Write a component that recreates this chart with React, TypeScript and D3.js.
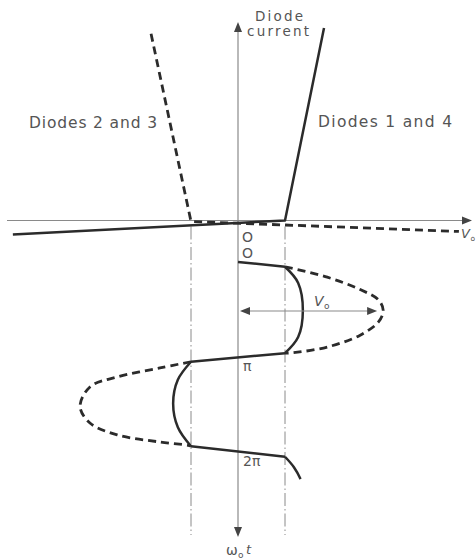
import React from "react";
import * as d3 from "d3";

// Diode characteristics: [voltage (knee units), current (arb. units)]
const diodes14: [number, number][] = [[-4.79, -0.73], [1, 0], [1.83, 10]];
const diodes23: [number, number][] = [[-1.85, 9.7], [-1, -0.05], [4.7, -0.57]];

// Waveforms below the axis: [voltage (knee units), phase (units of pi)]
const rampA: [number, number][] = [[0, 0], [1, 0.05]];
const clipPos: [number, number][] = [[1, 0.05], [1.28, 0.22], [1.38, 0.51], [1.28, 0.79], [1, 0.96]];
const drivePos: [number, number][] = [
  [1, 0.05], [1.9, 0.16], [2.6, 0.29], [2.99, 0.4], [3.09, 0.51],
  [2.99, 0.63], [2.6, 0.77], [1.9, 0.895], [1.17, 0.955], [1, 0.96],
];
const rampB: [number, number][] = [[1, 0.96], [-1, 1.05]];
const clipNeg: [number, number][] = [[-1, 1.05], [-1.28, 1.24], [-1.38, 1.49], [-1.28, 1.74], [-1, 1.94]];
const driveNeg: [number, number][] = [
  [-1, 1.05], [-1.66, 1.115], [-2.57, 1.21], [-3.15, 1.315], [-3.36, 1.52],
  [-3.15, 1.695], [-2.57, 1.82], [-1.66, 1.895], [-1.06, 1.93], [-1, 1.94],
];
const rampC: [number, number][] = [[-1, 1.94], [1, 2.05]];
const clipTail: [number, number][] = [[1, 2.05], [1.19, 2.16], [1.33, 2.285]];

const kneeVolts = [-1, 1];
const peakVolts = 2.96;
const peakPhase = 0.515;
const phaseLabels = [
  { p: 1, text: "\u03c0" },
  { p: 2, text: "2\u03c0" },
];

const W = 476;
const H = 560;

export default function App() {
  const x = d3.scaleLinear().domain([0, 1]).range([238, 285]);
  const yI = d3.scaleLinear().domain([0, 10]).range([220.5, 28]);
  const yT = d3.scaleLinear().domain([0, 2]).range([262, 452]);

  const ivLine = d3.line<[number, number]>().x((d) => x(d[0])).y((d) => yI(d[1]));
  const straight = d3.line<[number, number]>().x((d) => x(d[0])).y((d) => yT(d[1]));
  const smooth = d3
    .line<[number, number]>()
    .x((d) => x(d[0]))
    .y((d) => yT(d[1]))
    .curve(d3.curveCatmullRom.alpha(0.5));

  const axisColor = "#8a8a8a";
  const ink = "#2b2b2b";
  const textColor = "#555";
  const font = "'DejaVu Sans', sans-serif";

  const x0 = x(0);
  const yAxis = yI(0);
  const topTip = 22;
  const bottomTip = 537;
  const leftEnd = 7;
  const rightTip = 472;

  const arrow = (tx: number, ty: number, dir: "up" | "down" | "left" | "right", len = 10, hw = 4) => {
    let pts: [number, number][] = [];
    if (dir === "up") pts = [[tx, ty], [tx - hw, ty + len], [tx + hw, ty + len]];
    if (dir === "down") pts = [[tx, ty], [tx - hw, ty - len], [tx + hw, ty - len]];
    if (dir === "left") pts = [[tx, ty], [tx + len, ty - hw], [tx + len, ty + hw]];
    if (dir === "right") pts = [[tx, ty], [tx - len, ty - hw], [tx - len, ty + hw]];
    return "M" + pts.map((p) => p.join(",")).join("L") + "Z";
  };

  const vY = yT(peakPhase);
  const vLeft = x(0) + 2;
  const vRight = x(peakVolts);

  const solidW = 2.5;
  const dashW = 2.8;

  return (
    <svg
      width={W}
      height={H}
      viewBox={`0 0 ${W} ${H}`}
      style={{ position: "absolute", left: 0, top: 0, background: "#fff" }}
    >
      <rect width={W} height={H} fill="#fff" />

      {/* axes */}
      <line x1={x0} y1={topTip + 6} x2={x0} y2={bottomTip - 6} stroke={axisColor} strokeWidth={1.2} />
      <line x1={leftEnd} y1={yAxis} x2={rightTip - 6} y2={yAxis} stroke={axisColor} strokeWidth={1.2} />
      <path d={arrow(x0, topTip, "up")} fill="#444" />
      <path d={arrow(x0, bottomTip, "down")} fill="#444" />
      <path d={arrow(rightTip, yAxis, "right")} fill="#444" />

      {/* knee projections */}
      {kneeVolts.map((v) => (
        <line
          key={v}
          x1={x(v)}
          y1={yAxis + 6}
          x2={x(v)}
          y2={bottomTip - 2}
          stroke={axisColor}
          strokeWidth={1}
          strokeDasharray="13 3 1.5 3"
        />
      ))}

      {/* diode characteristics */}
      <path d={ivLine(diodes14) ?? ""} fill="none" stroke={ink} strokeWidth={solidW} strokeLinejoin="round" />
      <path d={ivLine(diodes23) ?? ""} fill="none" stroke={ink} strokeWidth={dashW} strokeDasharray="8 5" />

      {/* drive voltage (dashed) */}
      <path d={smooth(drivePos) ?? ""} fill="none" stroke={ink} strokeWidth={dashW} strokeDasharray="8 5" />
      <path d={smooth(driveNeg) ?? ""} fill="none" stroke={ink} strokeWidth={dashW} strokeDasharray="8 5" />

      {/* clipped diode voltage (solid) */}
      <path d={straight(rampA) ?? ""} fill="none" stroke={ink} strokeWidth={solidW} />
      <path d={smooth(clipPos) ?? ""} fill="none" stroke={ink} strokeWidth={solidW} />
      <path d={straight(rampB) ?? ""} fill="none" stroke={ink} strokeWidth={solidW} />
      <path d={smooth(clipNeg) ?? ""} fill="none" stroke={ink} strokeWidth={solidW} />
      <path d={straight(rampC) ?? ""} fill="none" stroke={ink} strokeWidth={solidW} />
      <path d={smooth(clipTail) ?? ""} fill="none" stroke={ink} strokeWidth={solidW} />

      {/* amplitude marker */}
      <line x1={vLeft + 6} y1={vY} x2={vRight - 6} y2={vY} stroke={axisColor} strokeWidth={1.1} />
      <path d={arrow(vLeft, vY, "left", 10, 4)} fill="#444" />
      <path d={arrow(vRight, vY, "right", 10, 4)} fill="#444" />

      {/* labels */}
      <g fill={textColor} fontFamily={font}>
        <text x={255} y={21} fontSize={13.5} textLength={48} lengthAdjust="spacing">Diode</text>
        <text x={247} y={36} fontSize={13.5} textLength={62} lengthAdjust="spacing">current</text>
        <text x={29} y={128} fontSize={15.5} textLength={128} lengthAdjust="spacing">Diodes 2 and 3</text>
        <text x={318} y={127} fontSize={15.5} textLength={134} lengthAdjust="spacing">Diodes 1 and 4</text>
        <text x={x0 + 4} y={yAxis + 21} fontSize={14}>O</text>
        <text x={x0 + 4} y={yT(0) - 4} fontSize={14}>O</text>
        {phaseLabels.map((d) => (
          <text key={d.text} x={x0 + 5} y={yT(d.p) + 14} fontSize={14}>
            {d.text}
          </text>
        ))}
        <text x={461} y={238} fontSize={13} fontStyle="italic">V</text>
        <text x={470.5} y={241} fontSize={7.5}>o</text>
        <text x={314} y={306} fontSize={14} fontStyle="italic">V</text>
        <text x={324} y={309} fontSize={9}>o</text>
        <text x={226} y={555} fontSize={14}>{"\u03c9"}</text>
        <text x={238} y={558} fontSize={9}>o</text>
        <text x={246} y={554} fontSize={13} fontStyle="italic">t</text>
      </g>
    </svg>
  );
}
